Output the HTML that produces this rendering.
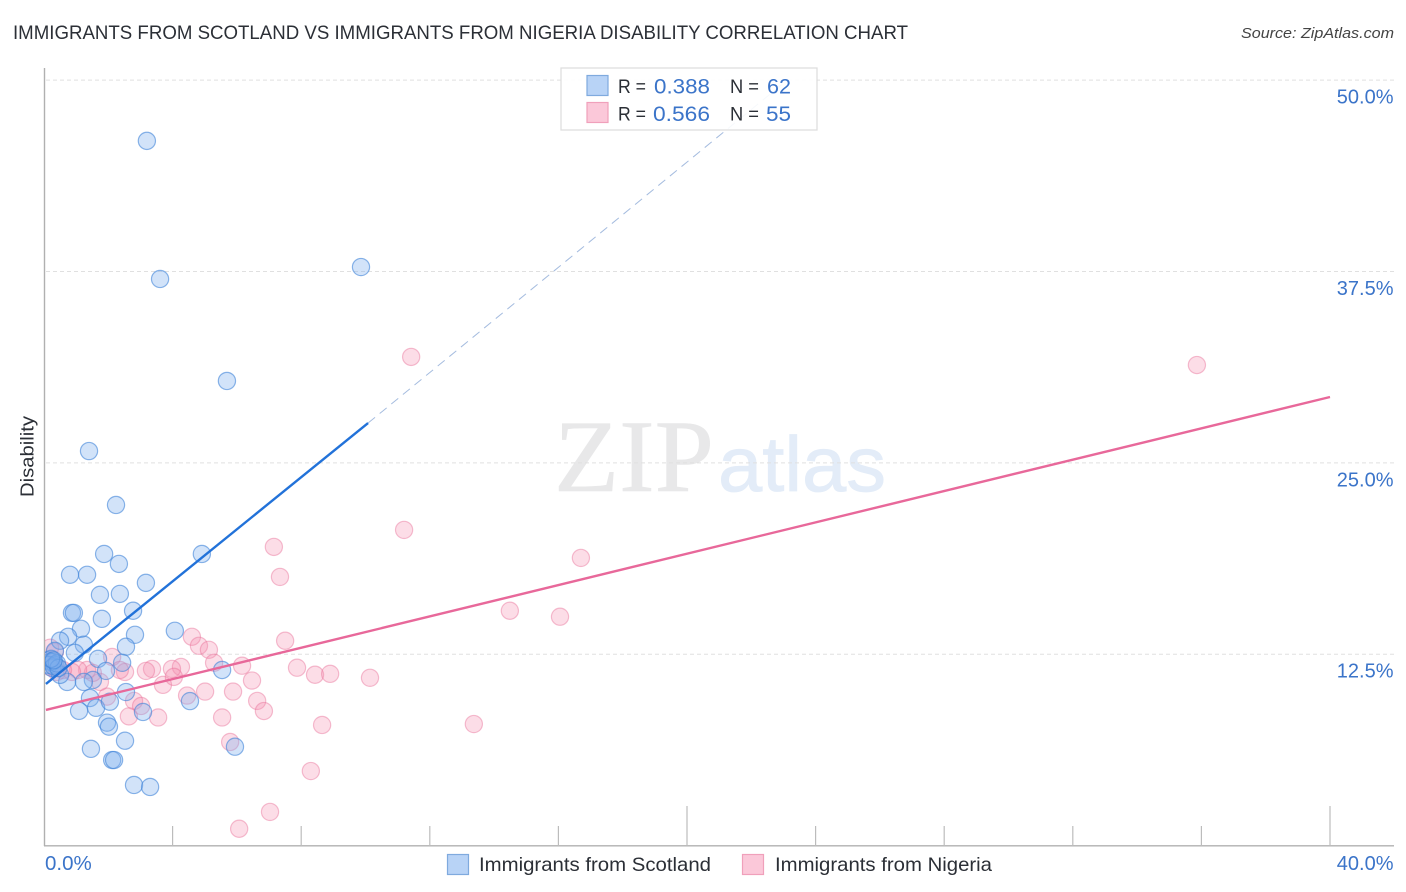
<!DOCTYPE html>
<html>
<head>
<meta charset="utf-8">
<title>Immigrants from Scotland vs Immigrants from Nigeria Disability Correlation Chart</title>
<style>
html,body{margin:0;padding:0;background:#fff;}
svg{display:block;font-family:"Liberation Sans",sans-serif;}
</style>
</head>
<body>
<svg id="chart" width="1406" height="892" viewBox="0 0 1406 892" xmlns="http://www.w3.org/2000/svg">
  <defs>
    <clipPath id="plot-clip"><rect x="45" y="60" width="1350" height="785"></rect></clipPath>
  </defs>
  <text x="13" y="39" font-size="19.5" fill="#2b2f36" textLength="895" lengthAdjust="spacingAndGlyphs">IMMIGRANTS FROM SCOTLAND VS IMMIGRANTS FROM NIGERIA DISABILITY CORRELATION CHART</text>
  <text x="1394" y="38" font-size="15" font-style="italic" fill="#444" text-anchor="end" textLength="153" lengthAdjust="spacingAndGlyphs">Source: ZipAtlas.com</text>
  <g>
    <text x="554" y="491" font-family="'Liberation Serif',serif" font-size="103" fill="#e8e8e9" stroke="#e8e8e9" stroke-width="0.6" textLength="160" lengthAdjust="spacingAndGlyphs">ZIP</text>
    <text x="718" y="491" font-size="78" fill="#e3ecf8" stroke="#e3ecf8" stroke-width="0.8" textLength="168" lengthAdjust="spacingAndGlyphs">atlas</text>
  </g>
  <g id="grid"></g>
  <g id="axes"></g>
  <g id="points-nigeria" clip-path="url(#plot-clip)"></g>
  <g id="points-scotland" clip-path="url(#plot-clip)"></g>
  <g id="trends"></g>
  <g>
    <rect x="561" y="68" width="256" height="62" fill="#fff" fill-opacity="0.9" stroke="#dcdcdc" stroke-width="1.2"></rect>
    <rect x="587" y="75.5" width="21" height="20" fill="#b8d3f6" stroke="#7faade" stroke-width="1.2"></rect>
    <rect x="587" y="102.5" width="21" height="20" fill="#fbc8d9" stroke="#f0a0bb" stroke-width="1.2"></rect>
    <text x="618" y="93" font-size="19.5" fill="#2b2f36" textLength="28" lengthAdjust="spacingAndGlyphs">R =</text>
    <text x="654" y="93.5" font-size="21" fill="#3b74c9" textLength="56" lengthAdjust="spacingAndGlyphs">0.388</text>
    <text x="730" y="93" font-size="19.5" fill="#2b2f36" textLength="29" lengthAdjust="spacingAndGlyphs">N =</text>
    <text x="767" y="93.5" font-size="21" fill="#3b74c9" textLength="24" lengthAdjust="spacingAndGlyphs">62</text>
    <text x="618" y="120.5" font-size="19.5" fill="#2b2f36" textLength="28" lengthAdjust="spacingAndGlyphs">R =</text>
    <text x="653" y="121" font-size="21" fill="#3b74c9" textLength="57" lengthAdjust="spacingAndGlyphs">0.566</text>
    <text x="730" y="120.5" font-size="19.5" fill="#2b2f36" textLength="29" lengthAdjust="spacingAndGlyphs">N =</text>
    <text x="766" y="121" font-size="21" fill="#3b74c9" textLength="25" lengthAdjust="spacingAndGlyphs">55</text>
  </g>
  <text transform="translate(33.5,456.5) rotate(-90)" font-size="18.5" fill="#2b2f36" text-anchor="middle" textLength="81" lengthAdjust="spacingAndGlyphs">Disability</text>
  <g>
    <g>
      <rect x="447.5" y="854.5" width="21" height="20" fill="#b8d3f6" stroke="#7faade" stroke-width="1.2"></rect>
      <text x="479" y="871" font-size="19.5" fill="#2b2f36" textLength="232" lengthAdjust="spacingAndGlyphs">Immigrants from Scotland</text>
    </g>
    <g>
      <rect x="742.5" y="854.5" width="21" height="20" fill="#fbc8d9" stroke="#f0a0bb" stroke-width="1.2"></rect>
      <text x="775" y="871" font-size="19.5" fill="#2b2f36" textLength="217" lengthAdjust="spacingAndGlyphs">Immigrants from Nigeria</text>
    </g>
  </g>
</svg>
<script>
const scotlandX = [3.20,3.61,9.86,5.69,1.40,2.24,1.87,4.91,2.33,0.81,1.34,3.17,2.36,1.74,0.87,0.93,2.77,1.80,1.15,4.07,2.83,0.75,0.50,1.24,2.55,0.96,0.34,1.68,2.43,5.54,1.93,1.52,0.72,1.24,0.50,2.55,1.43,4.54,1.62,2.05,1.09,3.08,1.96,2.02,2.52,1.46,5.94,2.12,2.18,2.80,3.30,0.12,0.20,0.28,0.35,0.15,0.25,0.30,0.40,0.45,0.22,0.30];
const scotlandY = [46.03,37.01,37.79,30.35,25.77,22.25,19.05,19.05,18.40,17.69,17.69,17.16,16.44,16.38,15.20,15.20,15.34,14.81,14.16,14.03,13.77,13.64,13.38,13.12,12.99,12.59,12.72,12.20,11.94,11.47,11.41,10.82,10.69,10.69,11.15,10.03,9.64,9.44,9.00,9.40,8.80,8.73,8.03,7.77,6.85,6.32,6.46,5.59,5.59,3.96,3.83,12.10,12.00,12.00,11.80,11.80,11.60,11.70,11.90,11.60,12.20,12.10];
const nigeriaX = [11.42,35.86,11.20,7.15,16.70,7.34,14.49,16.05,4.60,4.82,5.13,7.50,5.29,6.16,7.87,8.43,8.90,10.14,6.47,5.88,5.01,4.45,3.70,4.26,3.98,4.04,3.36,3.17,2.12,2.52,2.36,1.96,2.80,3.02,2.64,3.55,5.54,6.63,6.84,5.79,7.03,6.07,8.65,13.37,8.30,1.74,1.52,1.34,1.06,0.87,0.59,0.40,0.19,0.34,0.19];
const nigeriaY = [31.92,31.39,20.62,19.51,18.79,17.55,15.34,14.95,13.64,13.05,12.79,13.38,11.94,11.75,11.62,11.16,11.22,10.96,10.78,10.06,10.06,9.80,10.50,11.67,11.54,11.02,11.54,11.41,12.32,11.34,11.47,9.73,9.45,9.12,8.44,8.37,8.37,9.45,8.79,6.77,2.20,1.10,7.88,7.94,4.87,10.69,11.28,11.47,11.47,11.34,11.47,11.34,11.67,12.65,12.93];
const scotlandTrendX = [0.06,10.08];
const scotlandTrendY = [10.56,27.60];
const scotlandDashX = [10.08,23.00];
const scotlandDashY = [27.60,49.80];
const nigeriaTrendX = [0.06,40.00];
const nigeriaTrendY = [8.86,29.30];
const yTicks = [12.5,25,37.5,50];
const yTickLabels = ["12.5%","25.0%","37.5%","50.0%"];
const xTicks = [0,4,8,12,16,20,24,28,32,36,40];
const xMajorTicks = [20,40];
const xEdgeLabels = ["0.0%","40.0%"];

const NS = "http://www.w3.org/2000/svg";
const xScale = v => 44 + v * 32.15;
const yScale = v => 845.6 - v * 15.31;
function make(tag, attrs, parent) {
  const el = document.createElementNS(NS, tag);
  for (const k in attrs) el.setAttribute(k, attrs[k]);
  parent.appendChild(el);
  return el;
}
const grid = document.getElementById("grid");
const axes = document.getElementById("axes");
const trends = document.getElementById("trends");

yTicks.forEach((t, i) => {
  const line = make("line", {x1:46, x2:1394, y1:yScale(t), y2:yScale(t), stroke:"#e0e0e0", "stroke-width":1, "stroke-dasharray":"4 3"}, grid);
  
  
  const label = make("text", {x:1393.5, y:yScale(t) + 23.5, "font-size":20, fill:"#3b74c9", "text-anchor":"end"}, axes);
  label.textContent = yTickLabels[i];
  
  
});

const yAxis = make("line", {x1:44.5, x2:44.5, y1:68, y2:846, stroke:"#b0b0b0", "stroke-width":1.4}, axes);


const xAxis = make("line", {x1:44, x2:1394, y1:845.8, y2:845.8, stroke:"#b0b0b0", "stroke-width":1.4}, axes);



xTicks.slice(1).forEach(t => {
  const top = xMajorTicks.includes(t) ? 806 : 826;
  const tick = make("line", {x1:xScale(t), x2:xScale(t), y1:top, y2:846, stroke:"#bcbcbc", "stroke-width":1.2}, axes);
  
  
});

const xLabelLeft = make("text", {x:45, y:870, "font-size":20.5, fill:"#3b74c9"}, axes);
xLabelLeft.textContent = xEdgeLabels[0];


const xLabelRight = make("text", {x:1393.5, y:870, "font-size":20, fill:"#3b74c9", "text-anchor":"end"}, axes);
xLabelRight.textContent = xEdgeLabels[1];



const nigeriaGroup = document.getElementById("points-nigeria");
nigeriaX.forEach((x, i) => {
  const c = make("circle", {cx:xScale(x), cy:yScale(nigeriaY[i]), r:8.6, fill:"#f590b0", "fill-opacity":0.3, stroke:"#e9709a", "stroke-opacity":0.45, "stroke-width":1.2}, nigeriaGroup);
  
  
});
const scotlandGroup = document.getElementById("points-scotland");
scotlandX.forEach((x, i) => {
  const c = make("circle", {cx:xScale(x), cy:yScale(scotlandY[i]), r:8.6, fill:"#7fb0ee", "fill-opacity":0.35, stroke:"#3f83d8", "stroke-opacity":0.6, "stroke-width":1.2}, scotlandGroup);
  
  
});

const dash = make("line", {x1:xScale(scotlandDashX[0]), y1:yScale(scotlandDashY[0]), x2:xScale(scotlandDashX[1]), y2:yScale(scotlandDashY[1]), stroke:"#a5bcdf", "stroke-width":1, "stroke-dasharray":"9 6"}, trends);


const blueTrend = make("line", {x1:xScale(scotlandTrendX[0]), y1:yScale(scotlandTrendY[0]), x2:xScale(scotlandTrendX[1]), y2:yScale(scotlandTrendY[1]), stroke:"#2272d9", "stroke-width":2.4}, trends);


const pinkTrend = make("line", {x1:xScale(nigeriaTrendX[0]), y1:yScale(nigeriaTrendY[0]), x2:xScale(nigeriaTrendX[1]), y2:yScale(nigeriaTrendY[1]), stroke:"#e8689a", "stroke-width":2.4}, trends);


</script>
</body>
</html>
